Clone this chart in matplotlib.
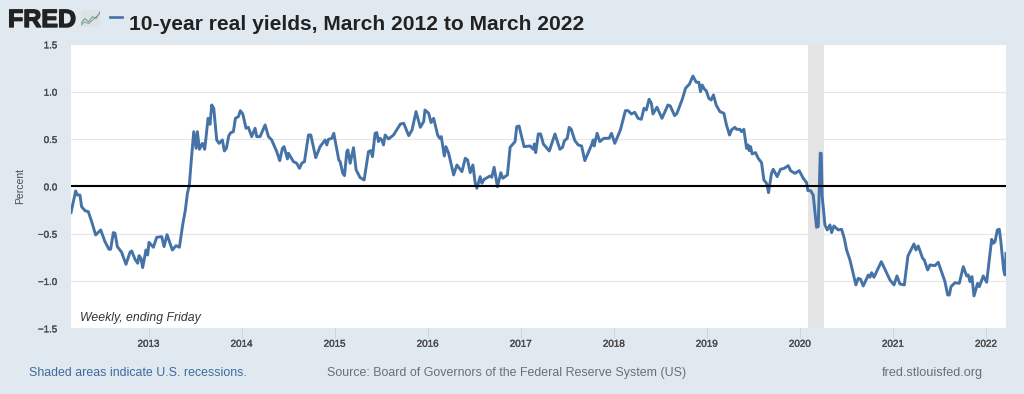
import matplotlib
matplotlib.use("Agg")
import matplotlib.pyplot as plt
import matplotlib.patheffects as pe

plt.rcParams['font.family'] = ['Liberation Sans', 'DejaVu Sans']

TITLE = "10-year real yields, March 2012 to March 2022"
year_ticks = [2013, 2014, 2015, 2016, 2017, 2018, 2019, 2020, 2021, 2022]
y_ticks = [-1.5, -1.0, -0.5, 0.0, 0.5, 1.0, 1.5]
recession = (2020.09, 2020.255)

dates_a = [2012.167,2012.192,2012.217,2012.235,2012.263,2012.281,2012.317,2012.353,2012.389,2012.432,2012.486,2012.532,2012.575,2012.593,2012.622,2012.640,2012.665,2012.711,2012.758,2012.801,2012.819,2012.855,2012.884,2012.898,2012.919,2012.937,2012.973,2012.991,2013.005,2013.052,2013.088,2013.142,2013.167,2013.199,2013.256,2013.296,2013.332,2013.367,2013.396,2013.418,2013.439,2013.457,2013.486,2013.511,2013.525,2013.547,2013.579,2013.604,2013.640,2013.661,2013.679,2013.701,2013.733,2013.758,2013.794,2013.815,2013.837,2013.862,2013.884,2013.912,2013.934,2013.966,2013.987,2014.013,2014.048,2014.073,2014.109,2014.145,2014.163,2014.199,2014.253,2014.289,2014.324,2014.378,2014.410,2014.439,2014.457,2014.493,2014.504,2014.557,2014.593,2014.622,2014.647,2014.676,2014.719,2014.744,2014.797,2014.844,2014.898,2014.916,2014.934,2014.970,2014.991,2015.045,2015.059,2015.088,2015.106,2015.131,2015.142,2015.167,2015.203,2015.231,2015.274,2015.317,2015.364,2015.389,2015.407,2015.435,2015.453,2015.471,2015.489,2015.507,2015.525,2015.543,2015.579,2015.633]
yields_a = [-.278,-.162,-.049,-.092,-.092,-.215,-.257,-.268,-.373,-.514,-.461,-.585,-.665,-.665,-.489,-.496,-.637,-.697,-.824,-.697,-.683,-.771,-.813,-.732,-.761,-.859,-.673,-.725,-.592,-.644,-.539,-.532,-.637,-.511,-.673,-.627,-.644,-.408,-.250,-.074,.014,.243,.577,.401,.577,.391,.454,.391,.718,.655,.859,.824,.489,.454,.489,.373,.401,.532,.567,.577,.718,.736,.799,.764,.613,.623,.525,.613,.525,.525,.648,.525,.489,.366,.271,.401,.419,.289,.349,.261,.243,.190,.243,.261,.542,.542,.303,.419,.489,.437,.496,.507,.560,.278,.261,.137,.113,.366,.384,.243,.408,.173,.092,.067,.366,.377,.313,.560,.567,.472,.507,.489,.437,.542,.500,.542]

dates_b = [2015.707,2015.743,2015.796,2015.832,2015.875,2015.921,2015.957,2015.971,2016.011,2016.036,2016.064,2016.107,2016.129,2016.146,2016.179,2016.196,2016.225,2016.279,2016.314,2016.368,2016.404,2016.429,2016.457,2016.486,2016.511,2016.529,2016.564,2016.582,2016.607,2016.671,2016.689,2016.714,2016.750,2016.786,2016.807,2016.857,2016.886,2016.939,2016.957,2016.982,2017.036,2017.100,2017.136,2017.146,2017.161,2017.189,2017.214,2017.243,2017.307,2017.368,2017.421,2017.450,2017.468,2017.500,2017.521,2017.543,2017.582,2017.618,2017.654,2017.689,2017.761,2017.779,2017.789,2017.821,2017.850,2017.893,2017.950,2017.975,2018.011,2018.071,2018.125,2018.154,2018.189,2018.225,2018.261,2018.296,2018.325,2018.350,2018.379,2018.404,2018.421,2018.464,2018.518,2018.582,2018.607,2018.654,2018.679,2018.736,2018.771,2018.814,2018.850,2018.886,2018.914,2018.932,2018.950,2018.975,2018.993,2019.021,2019.046,2019.071,2019.100]
yields_b = [.658,.665,.535,.595,.789,.623,.683,.806,.771,.673,.718,.542,.507,.525,.320,.419,.349,.120,.225,.155,.296,.278,.144,.225,.032,-.021,.102,.032,.074,.109,.095,.201,-.004,.144,.085,.120,.412,.472,.630,.637,.419,.426,.391,.447,.356,.553,.553,.447,.373,.553,.391,.412,.479,.507,.623,.602,.482,.437,.426,.271,.437,.489,.426,.560,.472,.507,.507,.560,.454,.595,.799,.799,.764,.782,.718,.708,.824,.806,.919,.877,.764,.835,.718,.859,.849,.746,.771,.919,1.035,1.081,1.165,1.099,1.099,1.000,1.070,1.025,1.011,.930,.912,.965,.859]

dates_c = [2019.140,2019.183,2019.211,2019.244,2019.265,2019.301,2019.319,2019.355,2019.373,2019.398,2019.427,2019.444,2019.455,2019.470,2019.487,2019.523,2019.552,2019.588,2019.613,2019.642,2019.663,2019.695,2019.713,2019.756,2019.792,2019.832,2019.875,2019.900,2019.946,2019.993,2020.036,2020.072,2020.086,2020.115,2020.143,2020.179,2020.197,2020.219,2020.229,2020.240,2020.269,2020.294,2020.323,2020.341,2020.366,2020.412,2020.448,2020.477,2020.502,2020.538,2020.602,2020.627,2020.652,2020.681,2020.735,2020.753,2020.771,2020.796,2020.875,2020.968,2021.011,2021.043,2021.075,2021.122,2021.161,2021.226,2021.247,2021.272,2021.319,2021.337,2021.373,2021.398,2021.452,2021.487,2021.559,2021.588,2021.606,2021.624,2021.667,2021.713,2021.756,2021.792,2021.810,2021.828,2021.849,2021.871,2021.910,2021.928,2021.971,2022.007,2022.061,2022.079,2022.097,2022.122,2022.143,2022.158,2022.190,2022.204,2022.215]
yields_c = [.789,.771,.648,.542,.595,.623,.602,.602,.577,.602,.401,.437,.377,.419,.342,.356,.296,.250,.067,.032,-.067,.137,.180,.102,.180,.190,.218,.165,.137,.165,.085,.039,-.046,-.046,-.092,-.433,-.426,.349,.349,-.109,-.408,-.461,-.408,-.489,-.419,-.461,-.454,-.549,-.673,-.778,-1.042,-.972,-.982,-1.053,-.937,-.961,-.912,-.961,-.796,-.989,-1.042,-.947,-1.032,-1.042,-.736,-.609,-.673,-.630,-.761,-.778,-.884,-.831,-.838,-.803,-1.007,-1.148,-1.148,-1.060,-1.018,-1.025,-.849,-.947,-.937,-1.007,-.954,-1.158,-1.025,-1.060,-.947,-1.014,-.560,-.602,-.585,-.461,-.454,-.567,-.884,-.937,-.708]

dates = dates_a + dates_b + dates_c
yields = yields_a + yields_b + yields_c

W, H = 1024, 394
BG = '#e1e9f0'
LINE = '#4572a7'
fig = plt.figure(figsize=(W / 100, H / 100), dpi=100, facecolor=BG)

def fx(px): return px / W
def fy(py): return 1 - py / H

ax = fig.add_axes([fx(71), fy(328.3), (1006 - 71) / W, (328.3 - 44.3) / H])
ax.set_facecolor('white')
ax.set_xlim(2012.167, 2022.215)
ax.set_ylim(-1.5, 1.5)
for s in ax.spines.values():
    s.set_visible(False)

ax.set_yticks(y_ticks)
ax.set_yticklabels([f"{v:.1f}".replace('-', '\u2212') for v in y_ticks])
ax.yaxis.grid(True, color='#e6e6e6', lw=0.8)
ax.set_axisbelow(True)
ax.tick_params(axis='y', length=0, pad=10, labelsize=7, labelcolor='#4a4a4a')
ax.set_xticks(year_ticks)
ax.set_xticklabels([str(y) for y in year_ticks])
ax.tick_params(axis='x', length=7, width=0.7, color='#c8d5e2', pad=0.5, labelsize=7.1, labelcolor='#4a4a4a')
ax.set_ylabel('Percent', fontsize=7.5, color='#4a4a4a', labelpad=9)
for lab in ax.get_xticklabels() + ax.get_yticklabels():
    lab.set_path_effects([pe.withStroke(linewidth=0.25, foreground='#4a4a4a')])

ax.axvspan(recession[0], recession[1], color='#e4e4e4', lw=0, zorder=1)
ax.axhline(0, color='black', lw=1.5, zorder=2.5)
ax.plot(dates, yields, color=LINE, lw=2.1, solid_joinstyle='round', zorder=2)

fig.text(fx(80), fy(321), 'Weekly, ending Friday', fontsize=8.8, style='italic', color='#333333', va='baseline')

# Header
fig.text(fx(8), fy(27), 'FRED', fontsize=18, fontweight='bold', color='#222222', va='baseline',
         path_effects=[pe.withStroke(linewidth=1.0, foreground='#222222')])
logo = fig.add_axes([fx(81), fy(27), 19 / W, 17 / H], facecolor='#dde3e5')
logo.set_xlim(0, 10); logo.set_ylim(0, 10)
logo.set_xticks([]); logo.set_yticks([])
for s in logo.spines.values():
    s.set_visible(False)
logo_x = [0, 2, 4, 6, 8, 10]
logo.plot(logo_x, [2, 5, 3, 6, 5, 9], color='#6f9a6f', lw=0.7)
logo.plot(logo_x, [1, 3, 2, 4, 6, 8], color='#7d9cb8', lw=0.7)

fig.add_artist(plt.Line2D([fx(110), fx(122)], [fy(17), fy(17)], color=LINE, lw=1.9))
fig.text(fx(129), fy(30), TITLE, fontsize=15.1, fontweight='bold', color='#222222', va='baseline')

# Footer
fig.text(fx(29), fy(376), 'Shaded areas indicate U.S. recessions.', fontsize=8.9, color='#3e6a9f', va='baseline')
fig.text(fx(327), fy(376), 'Source: Board of Governors of the Federal Reserve System (US)', fontsize=8.95, color='#6b6f73', va='baseline')
fig.text(fx(882), fy(376), 'fred.stlouisfed.org', fontsize=9.05, color='#6b6f73', va='baseline')

fig.savefig('out.png', dpi=100, facecolor=BG)
